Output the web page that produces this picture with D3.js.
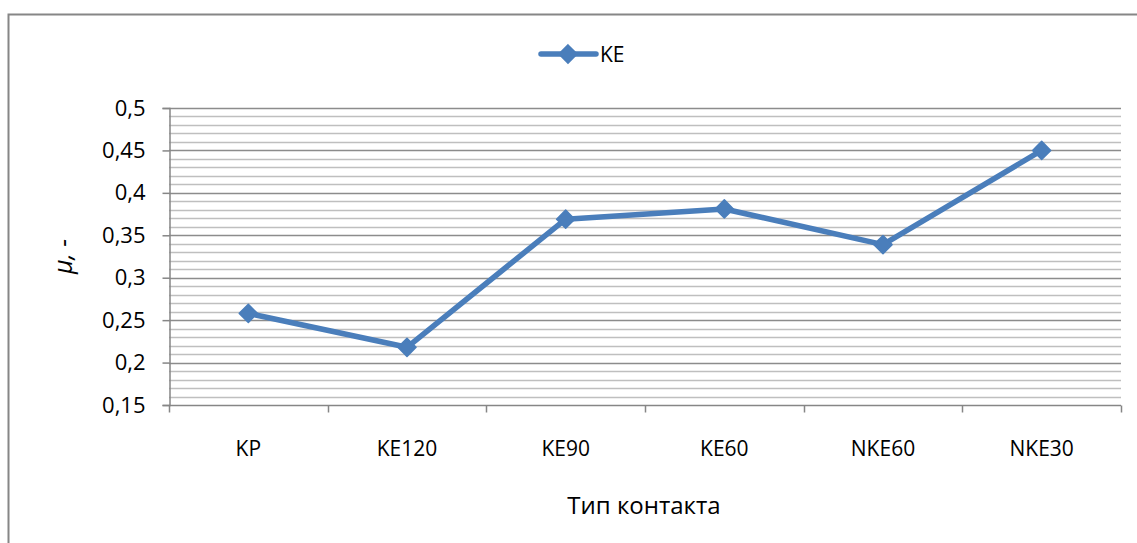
<!DOCTYPE html>
<html>
<head>
<meta charset="utf-8">
<script src="https://cdn.jsdelivr.net/npm/d3@7"></script>
<style>
  html, body { margin: 0; padding: 0; background: #fff; }
  svg text { font-family: "Open Sans", Lato, sans-serif; fill: #000; }
</style>
</head>
<body>
<svg id="chart" width="1137" height="543"></svg>
<script>
// Contact types along the x axis
const categories = ["KP", "KE120", "KE90", "KE60", "NKE60", "NKE30"];
// Friction coefficient for each contact type
const muValues = [0.258, 0.218, 0.369, 0.381, 0.339, 0.45];
// Y axis labels (decimal comma)
const yTicks = [0.15, 0.2, 0.25, 0.3, 0.35, 0.4, 0.45, 0.5];
const yTickLabels = ["0,15", "0,2", "0,25", "0,3", "0,35", "0,4", "0,45", "0,5"];
const seriesName = "KE";

const svg = d3.select("#chart");
const W = 1137, H = 543;
const plot = { left: 169, right: 1121, top: 108, bottom: 405 };
const lineColor = "#4a7ebb";

// Outer chart frame
svg.append("rect")
  .attr("x", 8.5).attr("y", 14.5)
  .attr("width", W + 20).attr("height", H + 20)
  .attr("fill", "#fff").attr("stroke", "#868686").attr("stroke-width", 2);

const x = d3.scaleBand().domain(categories).range([plot.left, plot.right]);
const y = d3.scaleLinear().domain([0.15, 0.5]).range([plot.bottom, plot.top]);

// Minor gridlines every 0.01
const minor = d3.range(16, 50).map(i => i / 100).filter(v => Math.round(v * 100) % 5 !== 0);
svg.append("g").selectAll("line").data(minor).join("line")
  .attr("x1", plot.left).attr("x2", plot.right)
  .attr("y1", d => Math.round(y(d)) + 0.5).attr("y2", d => Math.round(y(d)) + 0.5)
  .attr("stroke", "#bfbfbf").attr("stroke-width", 1.3);

// Major gridlines
svg.append("g").selectAll("line").data(yTicks.slice(1)).join("line")
  .attr("x1", plot.left).attr("x2", plot.right)
  .attr("y1", d => Math.round(y(d)) + 0.5).attr("y2", d => Math.round(y(d)) + 0.5)
  .attr("stroke", "#8c8c8c").attr("stroke-width", 1.3);

// Y axis
const yAxis = d3.axisLeft(y).tickValues(yTicks)
  .tickFormat((d, i) => yTickLabels[i]).tickSize(7).tickPadding(6);
const gy = svg.append("g").attr("transform", `translate(${plot.left + 0.5},0)`).call(yAxis);
gy.select(".domain").attr("stroke", "#868686").attr("stroke-width", 1.5);
gy.selectAll(".tick line").attr("stroke", "#868686").attr("stroke-width", 1.5);
gy.selectAll(".tick text").style("font-size", "22px")
  .attr("fill", "#000").attr("dy", "0.32em").attr("x", -24);

// X axis with ticks at category boundaries
const xAxisY = Math.round(y(0.15)) + 0.5;
svg.append("line")
  .attr("x1", plot.left).attr("x2", plot.right)
  .attr("y1", xAxisY).attr("y2", xAxisY)
  .attr("stroke", "#868686").attr("stroke-width", 1.5);
const bounds = categories.map(c => x(c)).concat([x(categories[categories.length - 1]) + x.bandwidth()]);
svg.append("g").selectAll("line").data(bounds).join("line")
  .attr("x1", d => Math.round(d) + 0.5).attr("x2", d => Math.round(d) + 0.5)
  .attr("y1", xAxisY).attr("y2", xAxisY + 7)
  .attr("stroke", "#868686").attr("stroke-width", 1.5);
svg.append("g").selectAll("text").data(categories).join("text")
  .attr("x", d => x(d) + x.bandwidth() / 2)
  .attr("y", 456)
  .attr("text-anchor", "middle")
  .style("font-size", "21px")
  .text(d => d);

// Axis titles
svg.append("text")
  .attr("x", 644)
  .attr("y", 514)
  .attr("text-anchor", "middle")
  .style("font-size", "24px")
  .text("Тип контакта");
svg.append("text")
  .attr("transform", `translate(72,${(plot.top + plot.bottom) / 2}) rotate(-90)`)
  .attr("text-anchor", "middle")
  .style("font-size", "25px")
  .style("font-style", "italic")
  .text("μ, -");

// Data line
const pts = categories.map((c, i) => [x(c) + x.bandwidth() / 2, y(muValues[i])]);
svg.append("path")
  .attr("d", d3.line()(pts))
  .attr("fill", "none").attr("stroke", lineColor)
  .attr("stroke-width", 5.5).attr("stroke-linejoin", "round");

const diamond = d3.symbol().type(d3.symbolDiamond2).size(210);
svg.append("g").selectAll("path").data(pts).join("path")
  .attr("transform", d => `translate(${d[0]},${d[1]})`)
  .attr("d", diamond)
  .attr("fill", lineColor).attr("stroke", lineColor).attr("stroke-width", 1.5)
  .attr("stroke-linejoin", "round");

// Legend
const lg = svg.append("g");
lg.append("line").attr("x1", 541).attr("x2", 596).attr("y1", 54).attr("y2", 54)
  .attr("stroke", lineColor).attr("stroke-width", 5.5).attr("stroke-linecap", "round");
lg.append("path").attr("transform", "translate(568,54)").attr("d", diamond)
  .attr("fill", lineColor).attr("stroke", lineColor).attr("stroke-width", 1.5);
lg.append("text").attr("x", 600).attr("y", 54).attr("dy", "0.36em")
  .style("font-size", "21px").text(seriesName);
</script>
</body>
</html>
